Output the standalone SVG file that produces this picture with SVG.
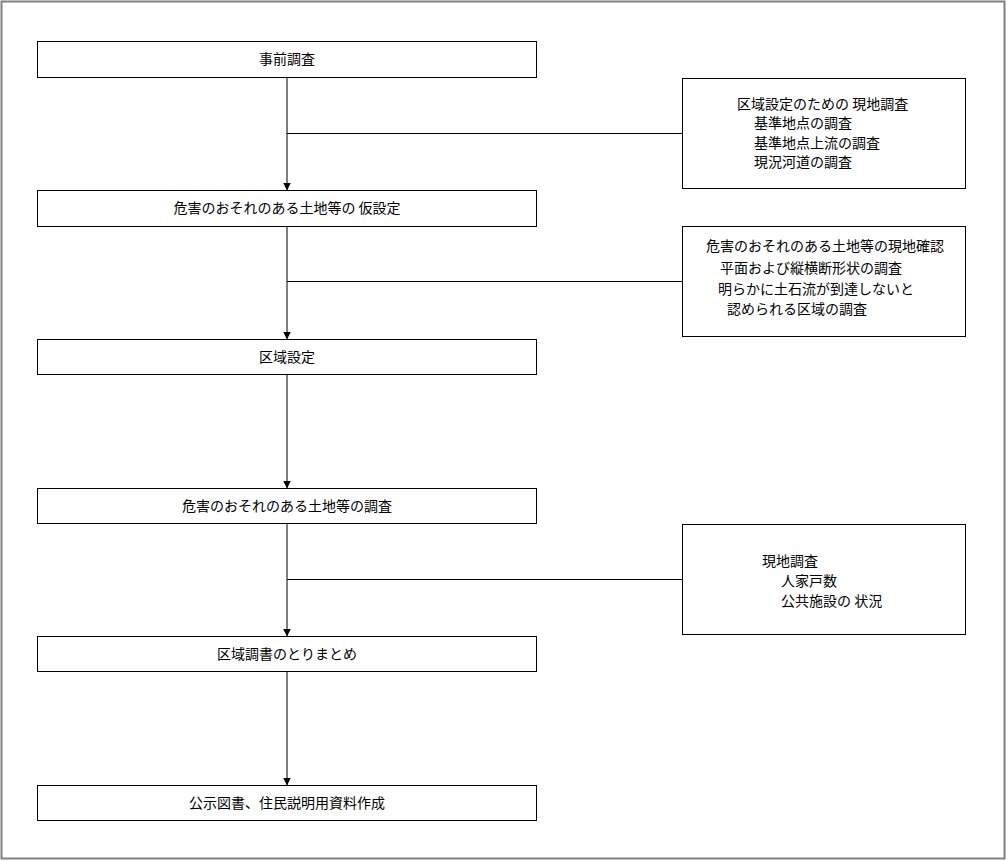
<svg xmlns="http://www.w3.org/2000/svg" width="1007" height="861" viewBox="0 0 1007 861">
<style>
.box{fill:#fff;stroke:#000;stroke-width:1}
.t{font-family:"Noto Sans CJK JP","Noto Sans",sans-serif;font-size:14px;fill:#000}
.c{text-anchor:middle}
.ln{stroke:#000;stroke-width:1;fill:none}
</style>
<defs>
<marker id="arr" markerWidth="8" markerHeight="9" refX="7.5" refY="4" orient="auto" markerUnits="userSpaceOnUse">
<path d="M0,0 L8,4 L0,8 Z" fill="#000"/>
</marker>
</defs>
<rect x="0" y="0" width="1007" height="861" fill="#fff"/>
<rect x="1.5" y="1.5" width="1003" height="857" fill="none" stroke="#808080" stroke-width="2"/>
<g id="connectors">
<line class="ln" x1="287" y1="77" x2="287" y2="190" marker-end="url(#arr)"/>
<line class="ln" x1="287" y1="226" x2="287" y2="339" marker-end="url(#arr)"/>
<line class="ln" x1="287" y1="374" x2="287" y2="488" marker-end="url(#arr)"/>
<line class="ln" x1="287" y1="523" x2="287" y2="636" marker-end="url(#arr)"/>
<line class="ln" x1="287" y1="671" x2="287" y2="785" marker-end="url(#arr)"/>
<line class="ln" x1="287" y1="133.5" x2="682" y2="133.5"/>
<line class="ln" x1="287" y1="281.5" x2="682" y2="281.5"/>
<line class="ln" x1="287" y1="579.5" x2="682" y2="579.5"/>
</g>
<g id="n1"><rect class="box" x="37.5" y="41.5" width="499" height="36"/><text class="t c" x="287" y="64">事前調査</text></g>
<g id="n2"><rect class="box" x="37.5" y="190.5" width="499" height="36"/><text class="t c" x="287" y="213">危害のおそれのある土地等の 仮設定</text></g>
<g id="n3"><rect class="box" x="37.5" y="339.5" width="499" height="35"/><text class="t c" x="287" y="362">区域設定</text></g>
<g id="n4"><rect class="box" x="37.5" y="488.5" width="499" height="35"/><text class="t c" x="287" y="511">危害のおそれのある土地等の調査</text></g>
<g id="n5"><rect class="box" x="37.5" y="636.5" width="499" height="35"/><text class="t c" x="287" y="659">区域調書のとりまとめ</text></g>
<g id="n6"><rect class="box" x="37.5" y="785.5" width="499" height="35"/><text class="t c" x="287" y="808">公示図書、住民説明用資料作成</text></g>
<g id="a1"><rect class="box" x="682.5" y="78.5" width="283" height="110"/>
<text class="t" x="737" y="109">区域設定のための 現地調査</text>
<text class="t" x="754" y="128">基準地点の調査</text>
<text class="t" x="754" y="148">基準地点上流の調査</text>
<text class="t" x="754" y="167">現況河道の調査</text>
</g>
<g id="a2"><rect class="box" x="682.5" y="226.5" width="283" height="110"/>
<text class="t" x="706" y="251">危害のおそれのある土地等の現地確認</text>
<text class="t" x="720" y="273">平面および縦横断形状の調査</text>
<text class="t" x="718" y="294">明らかに土石流が到達しないと</text>
<text class="t" x="727" y="314">認められる区域の調査</text>
</g>
<g id="a3"><rect class="box" x="682.5" y="524.5" width="283" height="110"/>
<text class="t" x="762" y="566">現地調査</text>
<text class="t" x="781" y="586">人家戸数</text>
<text class="t" x="781" y="606">公共施設の 状況</text>
</g>
</svg>
